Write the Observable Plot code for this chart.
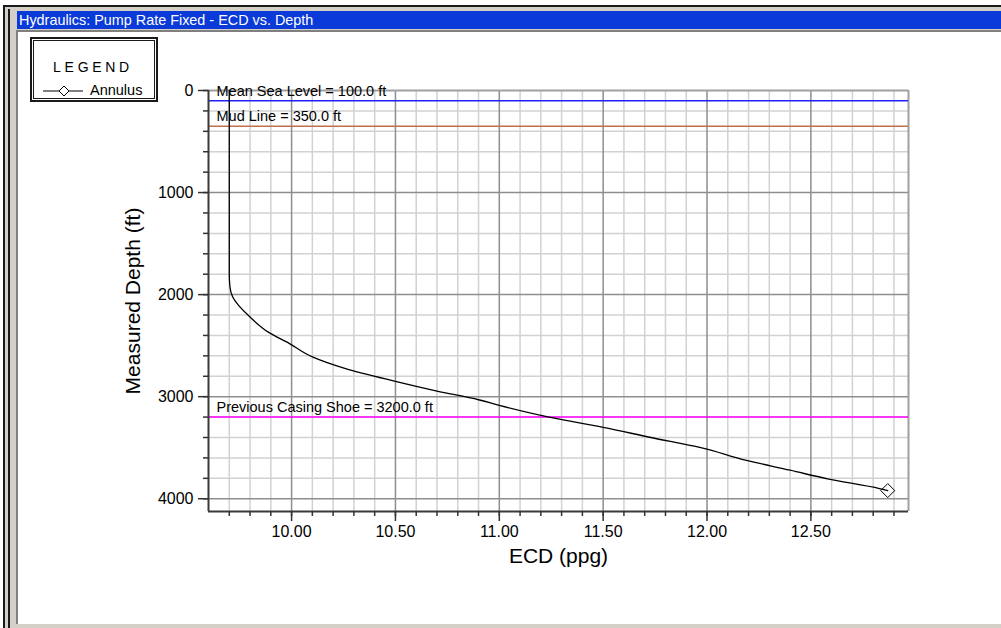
<!DOCTYPE html>
<html>
<head>
<meta charset="utf-8">
<script src="https://cdn.jsdelivr.net/npm/d3@7"></script>
<script src="https://cdn.jsdelivr.net/npm/@observablehq/plot@0.6"></script>
<style>
  html, body { margin: 0; padding: 0; background: #fff; }
  #win { position: relative; width: 1001px; height: 628px; overflow: hidden; font-family: "Liberation Sans", Arial, sans-serif; }
  .abs { position: absolute; }
  #outer { left: 3px; top: 5px; right: -10px; bottom: -10px; border-left: 2px solid #1a1a1a; border-top: 2px solid #1a1a1a; background: #d4d0c8; }
  #inner { left: 8px; top: 9px; right: -10px; bottom: -10px; border-left: 2px solid #1a1a1a; background: #d4d0c8; }
  #titlebar { left: 17px; top: 11px; right: 0; height: 18px; background: #0a3ad8; color: #fff; font-size: 14.4px; line-height: 18px; padding-left: 2px; white-space: nowrap; }
  #content { left: 16px; top: 30px; right: 0; bottom: 4px; background: #fff; border-left: 2px solid #808080; border-top: 2px solid #808080; }
  #bottomline { left: 16px; right: 0; bottom: 0; height: 4px; background: #d4d0c8; }
  #chart { left: 0; top: 0; }
  #legend { left: 30px; top: 37px; width: 124px; height: 61px; border: 2px solid #1a1a1a; background: #fff; }
  #legendInner { position: absolute; left: 1px; top: 1px; right: 1px; bottom: 1px; border: 1px solid #1a1a1a; }
  #legTitle { position: absolute; left: 0; right: 0; top: 18px; text-align: center; font-size: 14px; letter-spacing: 3.7px; padding-right: 2px; color: #000; }
  #legItem { position: absolute; left: 9px; top: 41px; font-size: 14.5px; color: #000; white-space: nowrap; }
  #legItem svg { vertical-align: middle; margin-right: 7px; }
</style>
</head>
<body>
<div id="win">
  <div id="outer" class="abs"></div>
  <div id="inner" class="abs"></div>
  <div id="titlebar" class="abs">Hydraulics: Pump Rate Fixed - ECD vs. Depth</div>
  <div id="content" class="abs"></div>
  <div id="bottomline" class="abs"></div>
  <div id="chart" class="abs"></div>
  <div id="legend" class="abs">
    <div id="legendInner">
      <div id="legTitle">LEGEND</div>
      <div id="legItem"><svg width="40" height="12"><line x1="0" y1="6" x2="40" y2="6" stroke="#000" stroke-width="1.2"/><path d="M21,1 L26,6 L21,11 L16,6 Z" fill="#fff" stroke="#000" stroke-width="1"/></svg>Annulus</div>
    </div>
  </div>
</div>
<script>
// ---- data ----
const ecd   = [9.70, 9.70, 9.70, 9.703, 9.716, 9.80, 9.89, 9.99, 10.10, 10.26, 10.49, 10.70, 10.90, 11.00, 11.24, 11.50, 11.73, 11.97, 12.19, 12.40, 12.58, 12.83, 12.87];
const depth = [0, 1000, 1800, 1920, 2020, 2220, 2370, 2480, 2610, 2725, 2845, 2945, 3030, 3085, 3200, 3300, 3400, 3500, 3625, 3720, 3805, 3900, 3920];

const refNames  = ["Mean Sea Level = 100.0 ft", "Mud Line = 350.0 ft", "Previous Casing Shoe = 3200.0 ft"];
const refDepths = [100, 350, 3200];
const refColors = ["#1f1fff", "#c0704f", "#ff00ff"];

const xTickLabels = [10.0, 10.5, 11.0, 11.5, 12.0, 12.5];
const yTickLabels = [0, 1000, 2000, 3000, 4000];
const xDomain = [9.6, 12.97];
const yDomain = [0, 4125];

const xLabel = "ECD (ppg)";
const yLabel = "Measured Depth (ft)";

// ---- derived ----
const curve = ecd.map((e, i) => ({ecd: e, depth: depth[i]}));
const refs = refNames.map((n, i) => ({name: n, depth: refDepths[i], color: refColors[i]}));
const minorX = d3.range(97, 130).map(d => d / 10).filter(v => !xTickLabels.some(t => Math.abs(t - v) < 1e-9));
const minorY = d3.range(200, 4001, 200).filter(v => v % 1000 !== 0);
const allMinorXTicks = d3.range(97, 130).map(d => d / 10);
const allMinorYTicks = d3.range(0, 4001, 200);

const chart = Plot.plot({
  width: 1001,
  height: 628,
  marginLeft: 208,
  marginTop: 90,
  marginRight: 93,
  marginBottom: 117,
  style: {background: "transparent", fontFamily: "Liberation Sans, Arial, sans-serif", color: "#000", fontSize: "16px", overflow: "visible"},
  x: {domain: xDomain, label: null},
  y: {domain: yDomain, reverse: true, label: null},
  marks: [
    // grid
    Plot.ruleX(minorX, {stroke: "#d2d2d2", strokeWidth: 1.5}),
    Plot.ruleY(minorY, {stroke: "#d2d2d2", strokeWidth: 1.5}),
    Plot.ruleX(xTickLabels, {stroke: "#8e8e8e", strokeWidth: 1.5}),
    Plot.ruleY(yTickLabels.filter(v => v > 0), {stroke: "#8e8e8e", strokeWidth: 1.5}),
    // frame top/right
    Plot.ruleY([yDomain[0]], {stroke: "#a0a0a0", strokeWidth: 2}),
    Plot.ruleX([xDomain[1]], {stroke: "#a0a0a0", strokeWidth: 2}),
    // reference lines
    Plot.ruleY(refs, {y: "depth", stroke: "color", strokeWidth: 1.5}),
    Plot.text(refs, {y: "depth", text: "name", frameAnchor: "left", dx: 8, dy: -5, lineAnchor: "bottom", textAnchor: "start", fontSize: 14.5, fill: "#000"}),
    // curve
    Plot.line(curve, {x: "ecd", y: "depth", stroke: "#000", strokeWidth: 1.3, curve: "monotone-y"}),
    Plot.dot([curve[curve.length - 1]], {x: "ecd", y: "depth", symbol: "diamond2", r: 6.3, stroke: "#000", fill: "none", strokeWidth: 1}),
    // axis lines
    Plot.ruleX([xDomain[0]], {stroke: "#3a3a3a", strokeWidth: 2}),
    Plot.ruleY([yDomain[1]], {stroke: "#3a3a3a", strokeWidth: 2}),
    // ticks
    Plot.axisX(allMinorXTicks, {tickSize: 5, tickFormat: () => "", label: null, stroke: "#333", strokeWidth: 1.5}),
    Plot.axisX(xTickLabels, {tickSize: 10, tickPadding: 4, tickFormat: d => d.toFixed(2), label: null, stroke: "#333", strokeWidth: 1.5, fontSize: 16}),
    Plot.axisY(allMinorYTicks, {tickSize: 5, tickFormat: () => "", label: null, stroke: "#333", strokeWidth: 1.5}),
    Plot.axisY(yTickLabels, {tickSize: 10, tickPadding: 5, tickFormat: d => String(d), label: null, stroke: "#333", strokeWidth: 1.5, fontSize: 16}),
    // axis titles
    Plot.text([yLabel], {frameAnchor: "left", dx: -75, rotate: -90, textAnchor: "middle", lineAnchor: "middle", fontSize: 21, fill: "#000"}),
    Plot.text([xLabel], {frameAnchor: "bottom", dy: 45, textAnchor: "middle", lineAnchor: "middle", fontSize: 21, fill: "#000"})
  ]
});
document.getElementById("chart").appendChild(chart);
</script>
</body>
</html>
